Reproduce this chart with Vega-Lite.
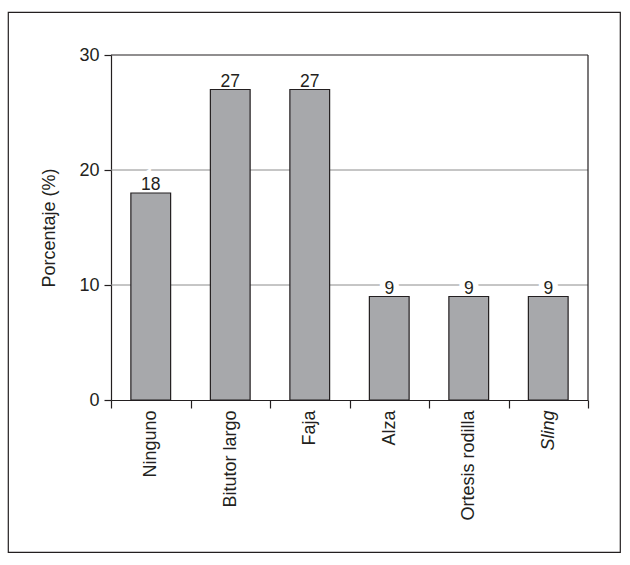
{
  "$schema": "https://vega.github.io/schema/vega-lite/v6.json",
  "width": 612,
  "height": 540,
  "autosize": {"type": "none"},
  "padding": {"left": 8, "top": 12, "right": 10, "bottom": 13},
  "background": "white",
  "config": {
    "font": "Liberation Sans",
    "view": {"stroke": "#231f20", "strokeWidth": 1.2},
    "axis": {
      "grid": false,
      "tickColor": "#231f20",
      "tickWidth": 1.2,
      "domainColor": "#231f20",
      "domainWidth": 1.2,
      "labelFontSize": 18,
      "labelColor": "#231f20",
      "titleFontSize": 18,
      "titleFontWeight": "normal",
      "titleColor": "#231f20"
    }
  },
  "data": {
    "values": [
      {"cat": "Ninguno", "pct": 18},
      {"cat": "Bitutor largo", "pct": 27},
      {"cat": "Faja", "pct": 27},
      {"cat": "Alza", "pct": 9},
      {"cat": "Ortesis rodilla", "pct": 9},
      {"cat": "Sling", "pct": 9}
    ]
  },
  "layer": [
    {
      "data": {"values": [{"g": 10}, {"g": 20}]},
      "mark": {"type": "rule", "color": "#8c8c8c", "strokeWidth": 1},
      "encoding": {
        "y": {"field": "g", "type": "quantitative"},
        "x": {"datum": "Ninguno", "type": "nominal", "bandPosition": 0},
        "x2": {"datum": "Sling", "bandPosition": 1}
      }
    },
    {
      "mark": {"type": "text", "fontSize": 17.5, "baseline": "alphabetic", "dy": -3, "fill": "white", "stroke": "white", "strokeWidth": 11},
      "encoding": {
        "x": {"field": "cat", "type": "nominal", "sort": null},
        "y": {"field": "pct", "type": "quantitative"},
        "text": {"field": "pct", "type": "quantitative"}
      }
    },
    {
      "mark": {"type": "bar", "fill": "#a7a8ab", "stroke": "#231f20", "strokeWidth": 1.2, "width": {"band": 0.5}},
      "encoding": {
        "x": {
          "field": "cat",
          "type": "nominal",
          "sort": null,
          "scale": {
            "type": "band",
            "domain": ["Ninguno", "Bitutor largo", "Faja", "Alza", "Ortesis rodilla", "Sling"],
            "range": [103, 580],
            "paddingInner": 0,
            "paddingOuter": 0
          },
          "axis": {
            "orient": "bottom",
            "offset": -152,
            "title": null,
            "tickBand": "extent",
            "tickSize": 8,
            "labelAngle": -90,
            "labelAlign": "right",
            "labelBaseline": "middle",
            "labelPadding": 2,
            "labelFontStyle": {"condition": {"test": "datum.value === 'Sling'", "value": "italic"}, "value": "normal"}
          }
        },
        "y": {
          "field": "pct",
          "type": "quantitative",
          "scale": {"domain": [0, 30], "range": [388, 43], "nice": false},
          "axis": {
            "orient": "left",
            "offset": -103,
            "values": [0, 10, 20, 30],
            "tickSize": 7,
            "labelPadding": 5,
            "title": "Porcentaje (%)",
            "titlePadding": 20
          }
        }
      }
    },
    {
      "data": {"values": [{"g": 30}]},
      "mark": {"type": "rule", "color": "#231f20", "strokeWidth": 1.2},
      "encoding": {
        "y": {"field": "g", "type": "quantitative"},
        "x": {"datum": "Ninguno", "type": "nominal", "bandPosition": 0},
        "x2": {"datum": "Sling", "bandPosition": 1}
      }
    },
    {
      "data": {"values": [{"top": 30, "bottom": 0}]},
      "mark": {"type": "rule", "color": "#231f20", "strokeWidth": 1.2},
      "encoding": {
        "x": {"datum": "Sling", "type": "nominal", "bandPosition": 1},
        "y": {"field": "top", "type": "quantitative"},
        "y2": {"field": "bottom"}
      }
    },
    {
      "mark": {"type": "text", "fontSize": 17.5, "baseline": "alphabetic", "dy": -3, "color": "#231f20"},
      "encoding": {
        "x": {"field": "cat", "type": "nominal", "sort": null},
        "y": {"field": "pct", "type": "quantitative"},
        "text": {"field": "pct", "type": "quantitative"}
      }
    }
  ]
}
